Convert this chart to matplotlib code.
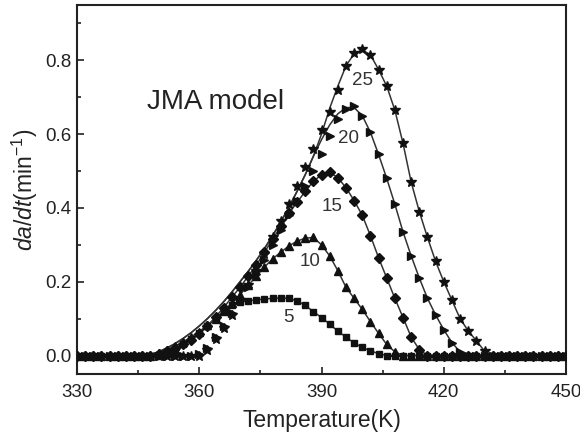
import numpy as np
import matplotlib
matplotlib.use("Agg")
import matplotlib.pyplot as plt

plt.rcParams['font.family'] = ['Liberation Sans', 'DejaVu Sans']
plt.rcParams['mathtext.fontset'] = 'custom'
plt.rcParams['mathtext.rm'] = 'Liberation Sans'
plt.rcParams['mathtext.it'] = 'Liberation Sans:italic'

# temperature grid of the DSC runs, 330..450 K every 2 K
temp = np.arange(330, 451, 2)

# measured da/dt at heating rates 5, 10, 15, 20, 25 K/min
exp_5 = [0, 0, 0, 0, 0, 0, 0, 0, 0, 0,
         0.0, 0.005, 0.015, 0.03, 0.045, 0.06, 0.08, 0.10, 0.122, 0.138,
         0.145, 0.148, 0.151, 0.153, 0.155, 0.156, 0.155, 0.148, 0.136, 0.119,
         0.103, 0.085, 0.066, 0.05, 0.034, 0.022, 0.013, 0.005, 0.0, 0.0,
         0, 0, 0, 0, 0, 0, 0, 0, 0, 0,
         0, 0, 0, 0, 0, 0, 0, 0, 0, 0, 0]
exp_10 = [0, 0, 0, 0, 0, 0, 0, 0, 0, 0,
          0.008, 0.015, 0.025, 0.037, 0.05, 0.065, 0.082, 0.1, 0.12, 0.142,
          0.165, 0.19, 0.215, 0.24, 0.262, 0.28, 0.297, 0.31, 0.318, 0.32,
          0.30, 0.27, 0.23, 0.185, 0.155, 0.125, 0.092, 0.06, 0.03, 0.01,
          0.0, 0, 0, 0, 0, 0, 0, 0, 0, 0,
          0, 0, 0, 0, 0, 0, 0, 0, 0, 0, 0]
exp_15 = [0, 0, 0, 0, 0, 0, 0, 0, 0, 0,
          0.005, 0.012, 0.02, 0.03, 0.042, 0.058, 0.08, 0.105, 0.13, 0.158,
          0.185, 0.215, 0.245, 0.28, 0.315, 0.35, 0.385, 0.415, 0.445, 0.472,
          0.49, 0.497, 0.482, 0.455, 0.42, 0.38, 0.325, 0.265, 0.21, 0.155,
          0.103, 0.05, 0.016, 0.0, 0, 0, 0, 0, 0, 0,
          0, 0, 0, 0, 0, 0, 0, 0, 0, 0, 0]
exp_20 = [0, 0, 0, 0, 0, 0, 0, 0, 0, 0,
          0, 0, 0, 0, 0, 0.003, 0.02, 0.05, 0.08, 0.115,
          0.15, 0.185, 0.22, 0.26, 0.30, 0.34, 0.38, 0.42, 0.46, 0.50,
          0.545, 0.595, 0.64, 0.668, 0.675, 0.65, 0.605, 0.545, 0.48, 0.41,
          0.335, 0.27, 0.21, 0.155, 0.11, 0.07, 0.035, 0.01, 0.0, 0,
          0, 0, 0, 0, 0, 0, 0, 0, 0, 0, 0]
exp_25 = [0, 0, 0, 0, 0, 0, 0, 0, 0, 0,
          0, 0, 0, 0, 0, 0, 0.015, 0.045, 0.075, 0.11,
          0.15, 0.19, 0.23, 0.275, 0.32, 0.365, 0.41, 0.46, 0.51, 0.56,
          0.61, 0.66, 0.72, 0.785, 0.82, 0.83, 0.815, 0.775, 0.73, 0.665,
          0.575, 0.47, 0.39, 0.32, 0.255, 0.2, 0.15, 0.1, 0.067, 0.04,
          0.012, 0.0, 0, 0, 0, 0, 0, 0, 0, 0, 0]

# JMA model curves for the two fastest rates
jma_20 = [0, 0, 0, 0, 0, 0, 0, 0, 0.0, 0.003,
          0.01, 0.02, 0.032, 0.046, 0.062, 0.08, 0.1, 0.122, 0.146, 0.172,
          0.2, 0.228, 0.258, 0.29, 0.325, 0.362, 0.402, 0.445, 0.49, 0.54,
          0.585, 0.625, 0.655, 0.672, 0.672, 0.65, 0.605, 0.545, 0.48, 0.41,
          0.335, 0.27, 0.21, 0.155, 0.11, 0.07, 0.035, 0.01, 0.0, 0,
          0, 0, 0, 0, 0, 0, 0, 0, 0, 0, 0]
jma_25 = [0, 0, 0, 0, 0, 0, 0, 0, 0.0, 0.003,
          0.01, 0.02, 0.032, 0.046, 0.062, 0.08, 0.1, 0.122, 0.146, 0.172,
          0.2, 0.228, 0.258, 0.29, 0.325, 0.362, 0.402, 0.445, 0.49, 0.54,
          0.6, 0.67, 0.73, 0.785, 0.818, 0.828, 0.815, 0.775, 0.73, 0.665,
          0.575, 0.47, 0.39, 0.32, 0.255, 0.2, 0.15, 0.1, 0.067, 0.04,
          0.012, 0.0, 0, 0, 0, 0, 0, 0, 0, 0, 0]

rates = ['5', '10', '15', '20', '25']
label_pos = [(381.9, 0.103), (387.3, 0.254), (392.7, 0.403),
             (396.6, 0.589), (400.1, 0.746)]

fig = plt.figure(figsize=(5.8, 4.37), dpi=100)
ax = fig.add_axes([0.1328, 0.1442, 0.8431, 0.8444])

line_kw = dict(color='#333333', lw=1.1, zorder=2)
ax.plot(temp, exp_5, **line_kw)
ax.plot(temp, exp_10, **line_kw)
ax.plot(temp, exp_15, **line_kw)
ax.plot(temp, jma_20, **line_kw)
ax.plot(temp, jma_25, **line_kw)

mk_kw = dict(ls='none', color='#111111', zorder=3)
ax.plot(temp, exp_5, marker='s', ms=4.8, **mk_kw)
ax.plot(temp, exp_10, marker='^', ms=5.8, **mk_kw)
ax.plot(temp, exp_15, marker='D', ms=4.8, **mk_kw)
ax.plot(temp, exp_20, marker='>', ms=5.8, **mk_kw)
ax.plot(temp, exp_25, marker='*', ms=7.0, **mk_kw)

for r, (x, y) in zip(rates, label_pos):
    ax.text(x, y, r, fontsize=13.5, color='#333333', ha='center', va='center')

ax.text(347.2, 0.686, 'JMA model', fontsize=20, color='#222222',
        ha='left', va='center')

ax.set_xlim(330, 450)
ax.set_ylim(-0.05, 0.95)
ax.set_xticks([330, 360, 390, 420, 450])
ax.set_xticks([345, 375, 405, 435], minor=True)
ax.set_yticks([0.0, 0.2, 0.4, 0.6, 0.8])
ax.set_yticks([0.1, 0.3, 0.5, 0.7, 0.9], minor=True)
ax.yaxis.set_major_formatter(matplotlib.ticker.FormatStrFormatter('%.1f'))

ax.tick_params(which='both', direction='in', labelsize=13.5,
               colors='#222222', width=1.2)
ax.tick_params(which='major', length=5)
ax.tick_params(which='minor', length=3)
ax.tick_params(axis='x', which='major', pad=7)
ax.tick_params(axis='y', which='major', pad=4)
for s in ax.spines.values():
    s.set_linewidth(1.5)
    s.set_color('#222222')

ax.set_xlabel('Temperature(K)', fontsize=16.5, color='#222222', labelpad=6)
ax.set_ylabel(r'$da/dt$(min$^{-1}$)', fontsize=16.5, color='#222222',
              labelpad=4)

fig.savefig('out.png', dpi=100)
